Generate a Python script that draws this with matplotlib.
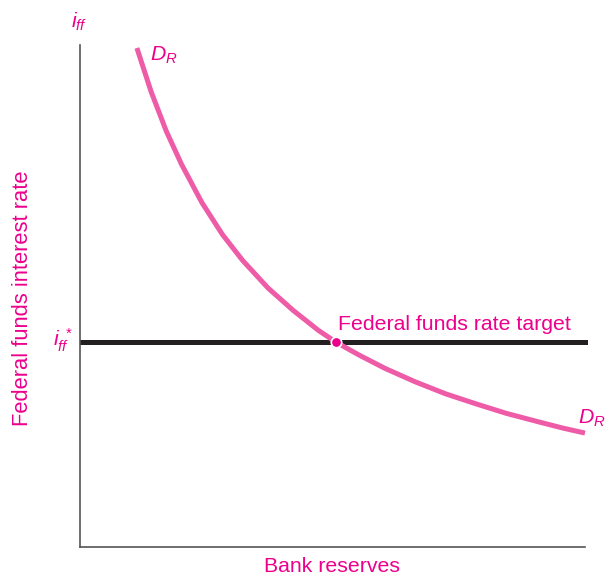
import matplotlib.pyplot as plt
import numpy as np

plt.rcParams['font.family'] = ['Liberation Sans', 'DejaVu Sans']
plt.rcParams['mathtext.fontset'] = 'custom'
plt.rcParams['mathtext.it'] = 'Liberation Sans:italic'
plt.rcParams['mathtext.rm'] = 'Liberation Sans'

# Demand curve for reserves (arbitrary units)
reserves = [1.12, 1.4, 1.7, 2.0, 2.4, 2.8, 3.2, 3.7, 4.2, 4.7, 5.04,
            5.5, 6.0, 6.6, 7.2, 7.8, 8.4, 9.0, 9.5, 9.94]
rate = [9.94, 9.07, 8.28, 7.62, 6.86, 6.23, 5.71, 5.16, 4.71, 4.31, 4.08,
        3.82, 3.56, 3.29, 3.05, 2.85, 2.66, 2.50, 2.37, 2.27]
target_rate = 4.08
target_reserves = 5.04

pink = '#EE5BA6'
magenta = '#EC008C'

fig = plt.figure(figsize=(6.08, 5.76), dpi=100)
ax = fig.add_axes([80/608, 29/576, 508/608, 502/576])
ax.set_xlim(0, 10)
ax.set_ylim(0, 10)

ax.plot(reserves, rate, color=pink, lw=3.6, solid_capstyle='butt',
        solid_joinstyle='round', zorder=3)
ax.axhline(target_rate, color='#231F20', lw=3.6, zorder=2)
ax.plot([target_reserves], [target_rate], 'o', ms=7.5, mfc=magenta, mec='white', mew=1.2, zorder=4)

for s in ['top', 'right']:
    ax.spines[s].set_visible(False)
for s in ['left', 'bottom']:
    ax.spines[s].set_color('#555555')
    ax.spines[s].set_linewidth(1.2)
ax.spines['bottom'].set_bounds(0, 9.94)
ax.set_xticks([])
ax.set_yticks([])

fs = 15.3
ax.text(-0.02, 10.46, r'$i_{ff}$', color=magenta, fontsize=fs, ha='center', va='center', clip_on=False)
ax.text(-0.14, 4.12, r'$i_{ff}^{\ *}$', color=magenta, fontsize=fs, ha='right', va='center', clip_on=False)
ax.text(1.38, 9.8, r'$D_R$', color=magenta, fontsize=fs, ha='left', va='center')
ax.text(9.80, 2.57, r'$D_R$', color=magenta, fontsize=fs, ha='left', va='center', clip_on=False)
ax.text(5.08, 4.44, 'Federal funds rate target', color=magenta, fontsize=fs, ha='left', va='center')
ax.text(4.96, -0.38, 'Bank reserves', color=magenta, fontsize=fs, ha='center', va='center', clip_on=False)
ax.text(-1.14, 4.96, 'Federal funds interest rate', color=magenta, fontsize=15.8,
        ha='center', va='center', rotation=90, clip_on=False)

fig.savefig('out.png', dpi=100)
